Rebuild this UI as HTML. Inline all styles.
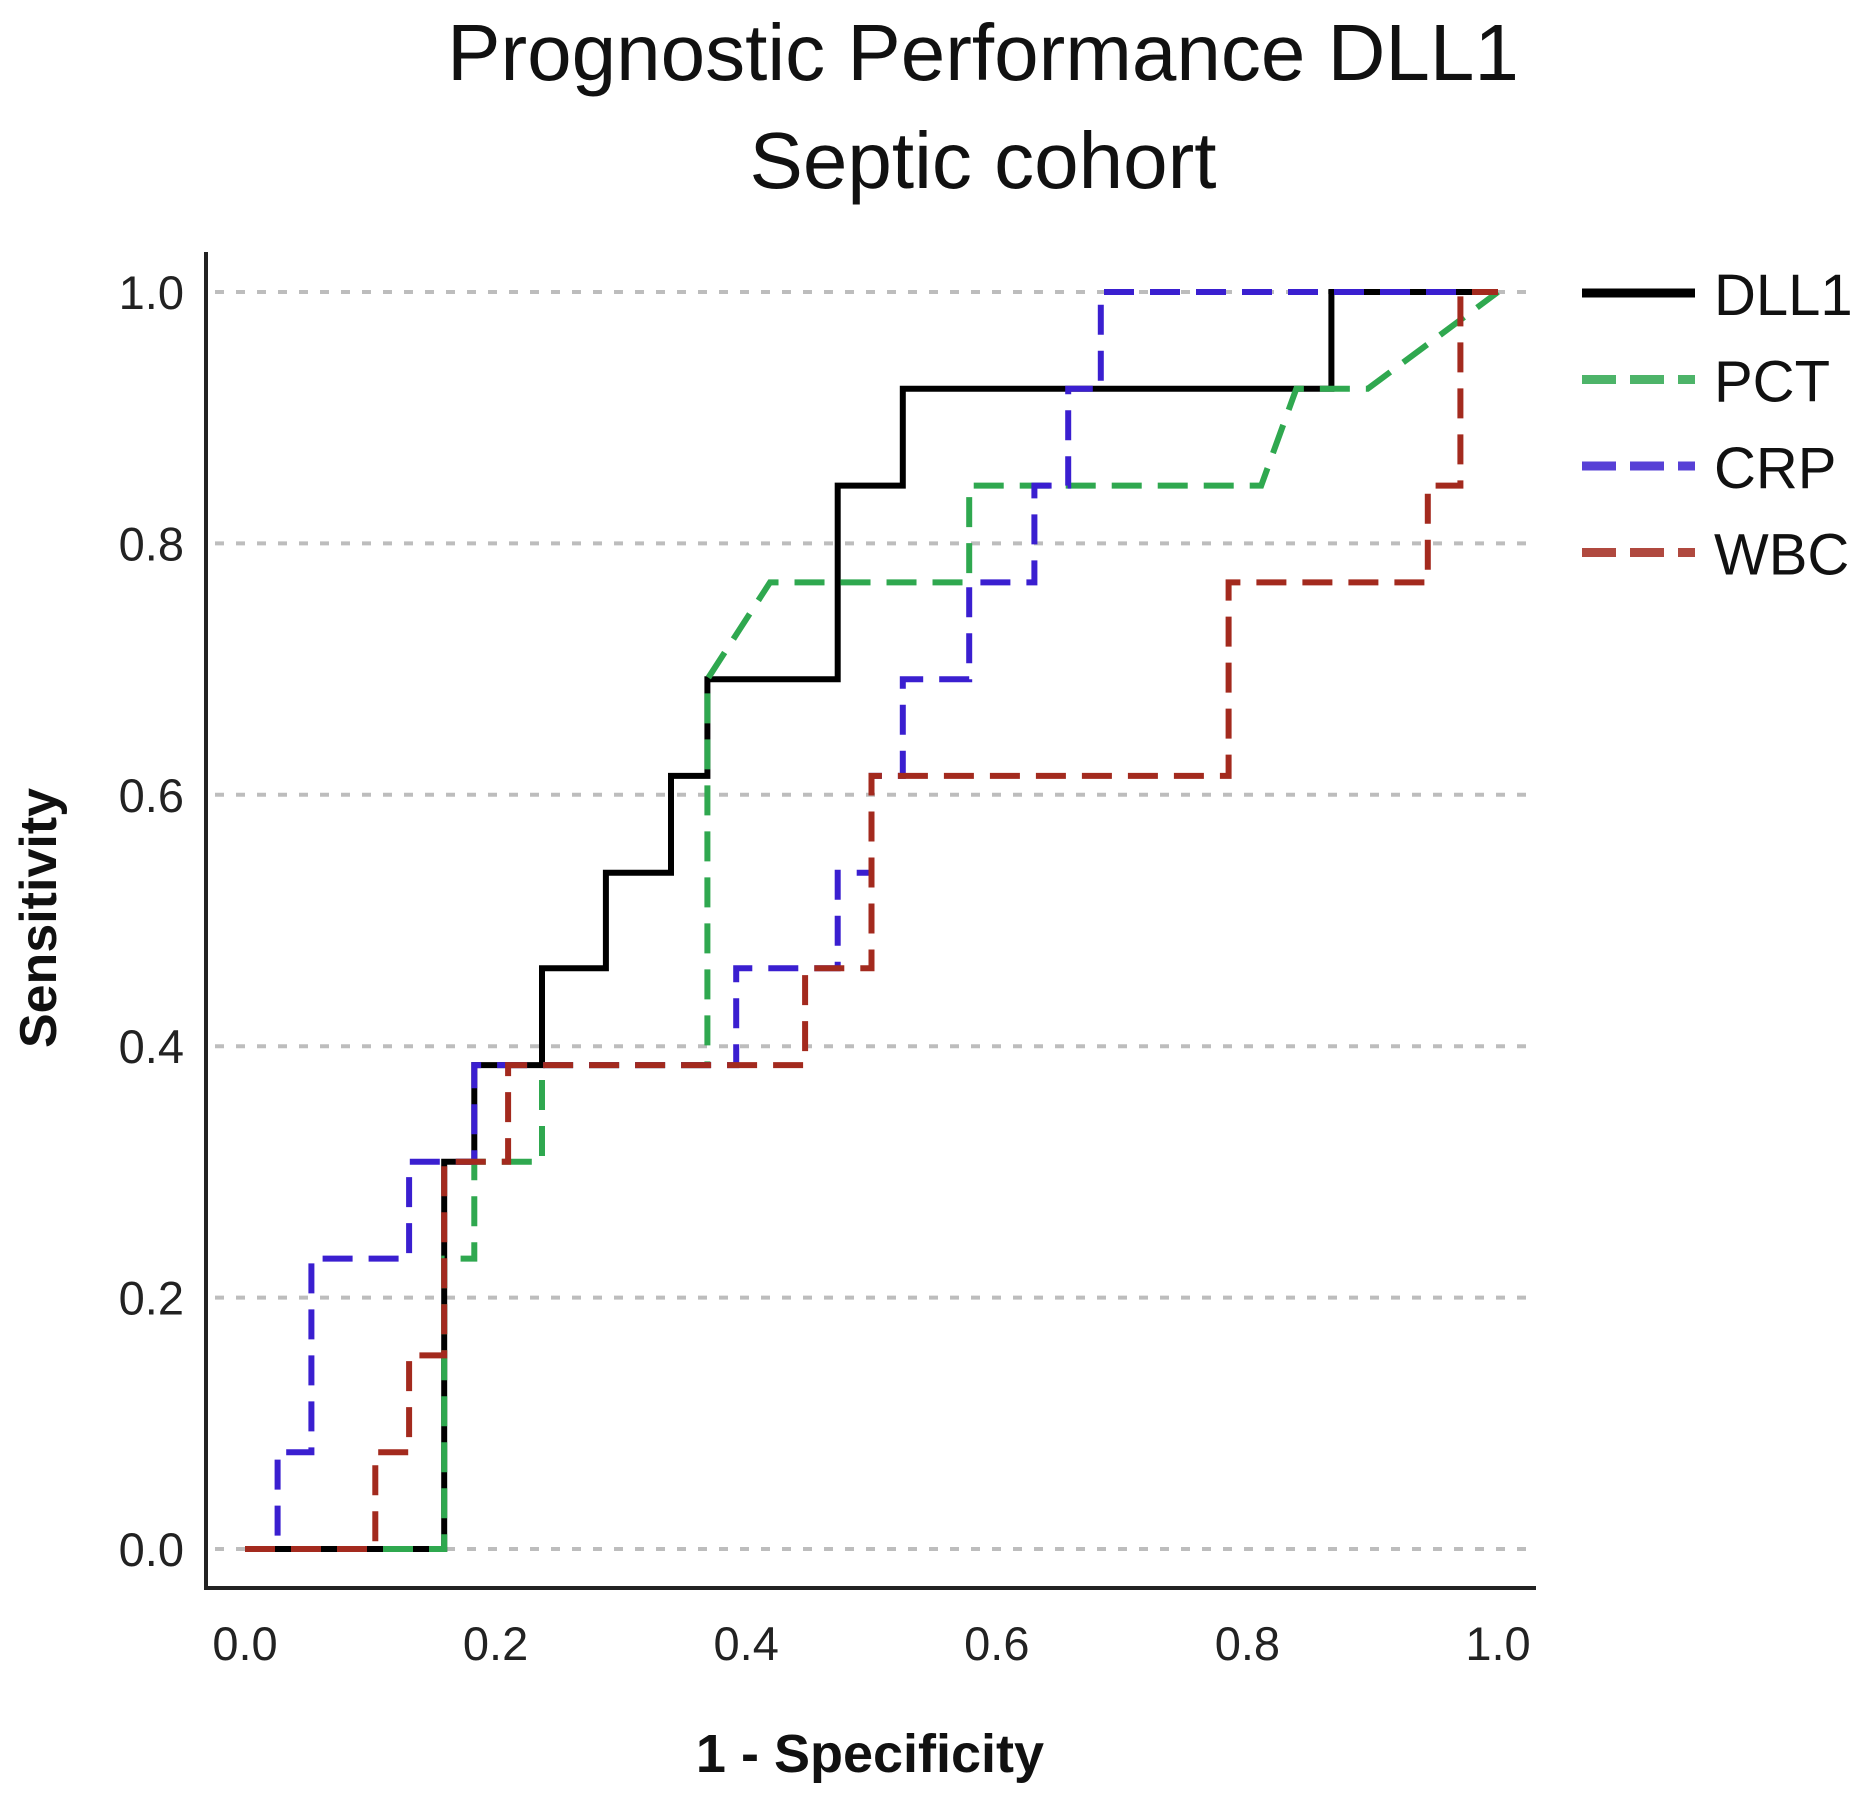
<!DOCTYPE html>
<html><head><meta charset="utf-8"><style>
html,body{margin:0;padding:0;background:#fff;}
svg{display:block;}
</style></head><body>
<svg id="chart" width="1857" height="1802" viewBox="0 0 1857 1802" xmlns="http://www.w3.org/2000/svg">
<g id="title" font-family="Liberation Sans, sans-serif" font-size="80" fill="#111" text-anchor="middle">
<text x="983" y="80">Prognostic Performance DLL1</text>
<text x="983" y="188">Septic cohort</text>
</g>
<g id="grid"></g>
<g id="axes"></g>
<g id="series"></g>
<g id="legend"></g>
</svg>
<script>
const xTicks = [0, 0.2, 0.4, 0.6, 0.8, 1.0];
const yTicks = [0, 0.2, 0.4, 0.6, 0.8, 1.0];
const seriesNames = ["DLL1", "PCT", "CRP", "WBC"];
const dll1 = [[0,0],[0.159,0],[0.159,0.308],[0.183,0.308],[0.183,0.385],[0.237,0.385],[0.237,0.462],[0.288,0.462],[0.288,0.538],[0.34,0.538],[0.34,0.615],[0.369,0.615],[0.369,0.692],[0.473,0.692],[0.473,0.846],[0.525,0.846],[0.525,0.923],[0.867,0.923],[0.867,1],[1,1]];
const pct = [[0,0],[0.159,0],[0.159,0.077],[0.159,0.231],[0.183,0.231],[0.183,0.308],[0.237,0.308],[0.237,0.385],[0.369,0.385],[0.369,0.692],[0.419,0.769],[0.578,0.769],[0.578,0.846],[0.811,0.846],[0.839,0.923],[0.896,0.923],[1,1]];
const crp = [[0,0],[0.026,0],[0.026,0.077],[0.053,0.077],[0.053,0.231],[0.131,0.231],[0.131,0.308],[0.183,0.308],[0.183,0.385],[0.392,0.385],[0.392,0.462],[0.473,0.462],[0.473,0.538],[0.5,0.538],[0.5,0.615],[0.525,0.615],[0.525,0.692],[0.578,0.692],[0.578,0.769],[0.63,0.769],[0.63,0.846],[0.657,0.846],[0.657,0.923],[0.683,0.923],[0.683,1],[1,1]];
const wbc = [[0,0],[0.104,0],[0.104,0.077],[0.131,0.077],[0.131,0.154],[0.159,0.154],[0.159,0.308],[0.21,0.308],[0.21,0.385],[0.447,0.385],[0.447,0.462],[0.5,0.462],[0.5,0.615],[0.785,0.615],[0.785,0.769],[0.944,0.769],[0.944,0.846],[0.97,0.846],[0.97,1],[1,1]];

const NS = "http://www.w3.org/2000/svg";
const X0 = 245, X1 = 1498, Y0 = 1549, Y1 = 292;
function sx(v){ return X0 + v*(X1-X0); }
function sy(v){ return Y0 - v*(Y0-Y1); }
function mk(tag, attrs, parent){
  const e = document.createElementNS(NS, tag);
  for (const k in attrs) e.setAttribute(k, attrs[k]);
  parent.appendChild(e);
  return e;
}
const grid = document.getElementById('grid');
const axes = document.getElementById('axes');
const series = document.getElementById('series');
const legend = document.getElementById('legend');

yTicks.forEach(t => {
  const l = mk('line', {x1:215, x2:1535, y1:sy(t), y2:sy(t), stroke:'#bdbdbd', 'stroke-width':4, 'stroke-dasharray':'9 12'}, grid);
  
  
  const tx = mk('text', {x:184, y:sy(t)+17, 'text-anchor':'end', 'font-family':'Liberation Sans, sans-serif', 'font-size':47, fill:'#222'}, axes);
  tx.textContent = t.toFixed(1);
  
  
});
xTicks.forEach(t => {
  const tx = mk('text', {x:sx(t), y:1660, 'text-anchor':'middle', 'font-family':'Liberation Sans, sans-serif', 'font-size':47, fill:'#222'}, axes);
  tx.textContent = t.toFixed(1);
  
  
});
const ya = mk('line', {x1:206, x2:206, y1:252, y2:1590, stroke:'#222', 'stroke-width':4}, axes);


const xa = mk('line', {x1:204, x2:1536, y1:1588, y2:1588, stroke:'#222', 'stroke-width':4}, axes);


const xt = mk('text', {x:870, y:1772, 'text-anchor':'middle', 'font-family':'Liberation Sans, sans-serif', 'font-size':54, 'font-weight':'bold', fill:'#111'}, axes);
xt.textContent = '1 - Specificity';


const ytl = mk('text', {x:0, y:0, 'text-anchor':'middle', 'font-family':'Liberation Sans, sans-serif', 'font-size':52, 'font-weight':'bold', fill:'#111', transform:'translate(56,918) rotate(-90)'}, axes);
ytl.textContent = 'Sensitivity';



const styles = {
  DLL1: {data: dll1, color:'#000000', dash:'none'},
  PCT: {data: pct, color:'#2fa84f', dash:'30 16'},
  CRP: {data: crp, color:'#3a1fd0', dash:'30 16'},
  WBC: {data: wbc, color:'#a32a1e', dash:'30 16'}
};
seriesNames.forEach((name, i) => {
  const s = styles[name];
  const pts = s.data.map(p => sx(p[0]).toFixed(1) + ',' + sy(p[1]).toFixed(1)).join(' ');
  const pl = mk('polyline', {points:pts, fill:'none', stroke:s.color, 'stroke-width':6, 'stroke-dasharray':s.dash, 'stroke-linejoin':'miter'}, series);
  
  
  const ly = 293 + i*86.5;
  const ll = mk('line', {x1:1582, x2:1695, y1:ly, y2:ly, stroke:s.color, 'stroke-width':9, 'stroke-dasharray': name==='DLL1' ? 'none' : '34 14', opacity: name==='DLL1'?1:0.85}, legend);
  
  
  const lt = mk('text', {x:1714, y:ly+22, 'font-family':'Liberation Sans, sans-serif', 'font-size':58, fill:'#111'}, legend);
  lt.textContent = name;
  
  
});
</script>
</body></html>
